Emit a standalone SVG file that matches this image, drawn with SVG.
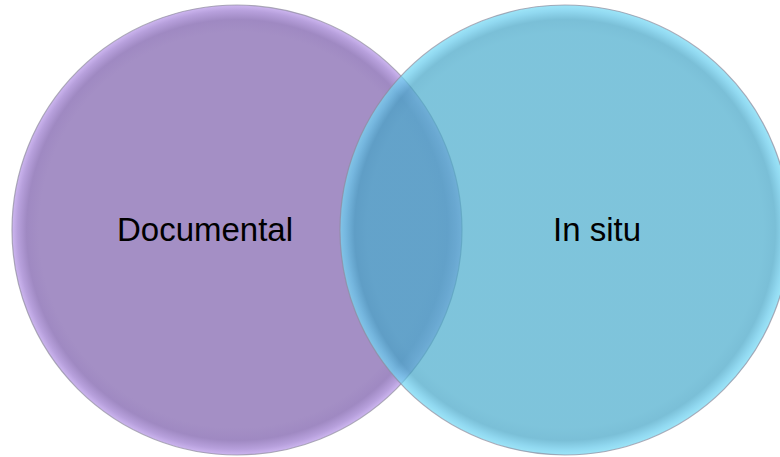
<svg xmlns="http://www.w3.org/2000/svg" width="780" height="457" viewBox="0 0 780 457">
  <defs>
    <radialGradient id="gPurple" cx="0.5" cy="0.5" r="0.5">
      <stop offset="0" stop-color="#A48FC5"/>
      <stop offset="0.88" stop-color="#A48FC5"/>
      <stop offset="0.935" stop-color="#9F89C2"/>
      <stop offset="0.975" stop-color="#B7A0DC"/>
      <stop offset="1" stop-color="#CDB6F0"/>
    </radialGradient>
    <radialGradient id="gCyan" cx="0.5" cy="0.5" r="0.5">
      <stop offset="0" stop-color="#48ABCC"/>
      <stop offset="0.88" stop-color="#48ABCC"/>
      <stop offset="0.935" stop-color="#42A4C6"/>
      <stop offset="0.975" stop-color="#62C8EA"/>
      <stop offset="1" stop-color="#74DAF5"/>
    </radialGradient>
    <style>
      .lbl { font-family: "Liberation Sans", Arial, sans-serif; font-size: 33px; fill: #000000; text-anchor: middle; }
      .ring { stroke: #8E8C9C; stroke-width: 1.2; stroke-opacity: 0.7; }
    </style>
  </defs>
  <rect width="780" height="457" fill="#FFFFFF"/>
  <g id="documental">
    <circle class="ring" cx="237" cy="230" r="225" fill="url(#gPurple)"/>
    <text class="lbl" x="205" y="241">Documental</text>
  </g>
  <g id="in-situ">
    <circle class="ring" cx="565" cy="230" r="225" fill="url(#gCyan)" fill-opacity="0.7"/>
    <text class="lbl" x="597" y="241">In situ</text>
  </g>
  <g id="connectors"></g>
</svg>
